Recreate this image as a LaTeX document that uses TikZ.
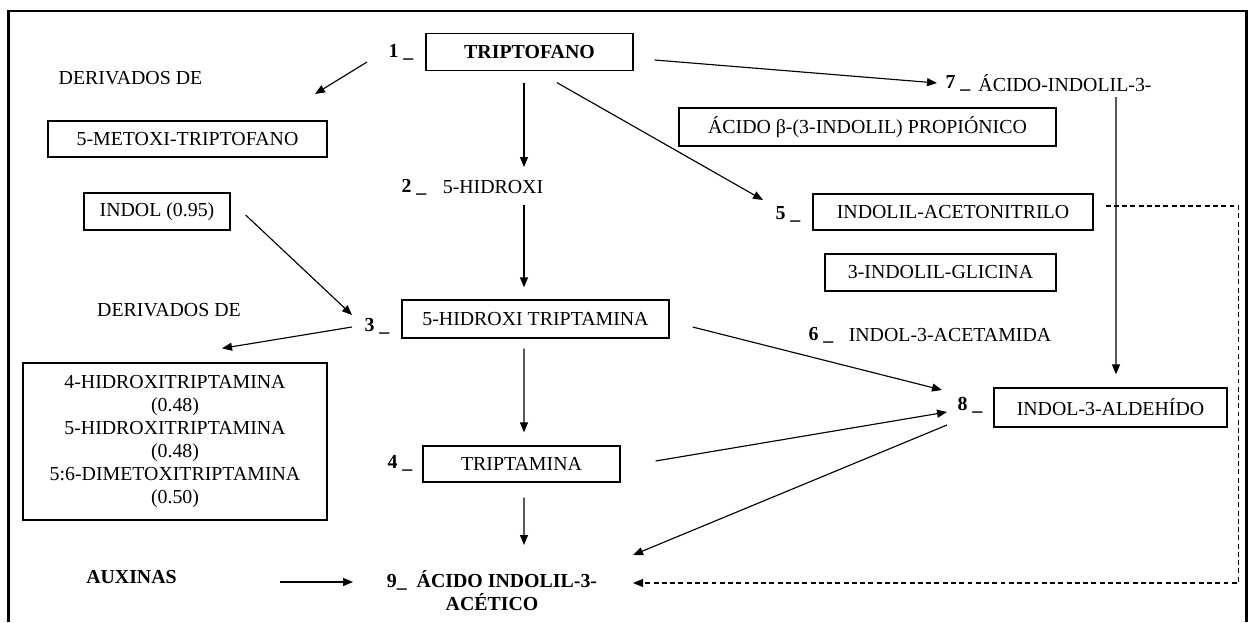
\documentclass[tikz,border=0pt]{standalone}
\usepackage{fontspec}
\setmainfont{Liberation Serif}
\usetikzlibrary{arrows.meta}
\newcommand{\diagfont}{\fontsize{11.3}{13.1}\selectfont}
\tikzset{
  >={Triangle[length=2mm,width=1.6mm]},
  box/.style={draw,line width=0.75pt,inner sep=0pt,align=center,font=\diagfont},
  num/.style={font=\diagfont\bfseries,inner sep=0pt},
  txt/.style={font=\diagfont,inner sep=0pt,align=center},
  flow/.style={->,line width=0.65pt},
  back/.style={->,line width=0.65pt,dash pattern=on 2.8pt off 1.9pt},
}

\begin{document}
\begin{tikzpicture}[x=0.02cm,y=-0.02cm]
  \useasboundingbox (0,0) rectangle (1253,622);
  \draw[line width=1.5pt] (8.5,622) -- (8.5,11) -- (1246.5,11) -- (1246.5,622);
  % left column
  \node[txt] (der1) at (130.5,78) {DERIVADOS DE};
  \node[box,minimum width=55.8mm,minimum height=7.2mm] (metox) at (187.5,139) {5-METOXI-TRIPTOFANO};
  \node[box,minimum width=29.2mm,minimum height=7.4mm] (indol) at (157,211.5) {INDOL (0.95)};
  \node[txt] (der2) at (169,310) {DERIVADOS DE};
  \node[box,minimum width=60.8mm,minimum height=31.4mm] (derv) at (175,441.5)
    {4-HIDROXITRIPTAMINA\\(0.48)\\5-HIDROXITRIPTAMINA\\(0.48)\\5:6-DIMETOXITRIPTAMINA\\(0.50)};
  \node[num] (aux) at (131.5,577) {AUXINAS};
  % central column
  \node[num] (n1) at (401,52) {1 \_};
  \node[box,font=\diagfont\bfseries,minimum width=41.4mm,minimum height=7.4mm] (trp) at (529.5,52) {TRIPTOFANO};
  \node[num] (n2) at (414,187) {2 \_};
  \node[txt] (h5) at (493,187) {5-HIDROXI};
  \node[num] (n3) at (377,326) {3 \_};
  \node[box,minimum width=53.4mm,minimum height=7.6mm] (hdxt) at (535.5,319) {5-HIDROXI TRIPTAMINA};
  \node[num] (n4) at (400,463) {4 \_};
  \node[box,minimum width=39.4mm,minimum height=7.2mm] (trpt) at (521.5,464) {TRIPTAMINA};
  \node[txt,font=\diagfont\bfseries] (iaa) at (492,591) {9\_\ \ ÁCIDO INDOLIL-3-\\ACÉTICO};
  % right column
  \node[num] (n7) at (958,83) {7 \_};
  \node[txt] (ia7) at (1065,83) {ÁCIDO-INDOLIL-3-};
  \node[box,minimum width=75.4mm,minimum height=7.6mm] (propi) at (867.5,127) {ÁCIDO β-(3-INDOLIL) PROPIÓNICO};
  \node[num] (n5) at (788,214) {5 \_};
  \node[box,minimum width=56mm,minimum height=7.2mm] (acnit) at (953,212) {INDOLIL-ACETONITRILO};
  \node[box,minimum width=46.2mm,minimum height=7.4mm] (glic) at (940.5,272.5) {3-INDOLIL-GLICINA};
  \node[num] (n6) at (821,335) {6 \_};
  \node[txt] (acet) at (950,335) {INDOL-3-ACETAMIDA};
  \node[num] (n8) at (970,405) {8 \_};
  \node[box,minimum width=46.6mm,minimum height=7.8mm] (ald) at (1110.5,407.5) {INDOL-3-ALDEHÍDO};
  % connectors
  \draw[flow] ([shift={(-34,10)}]n1.center) -- ([shift={(184.5,16)}]der1.center);
  \draw[flow] ([shift={(-5.5,12)}]trp.south) -- ([shift={(31,-20)}]h5.center);
  \draw[flow] ([shift={(31,18)}]h5.center) -- ([shift={(-11.5,-12)}]hdxt.north);
  \draw[flow] ([shift={(-11.5,10)}]hdxt.south) -- ([shift={(2.5,-13)}]trpt.north);
  \draw[flow] ([shift={(2.5,15)}]trpt.south) -- ([shift={(32,-46)}]iaa.center);
  \draw[flow] ([shift={(27.5,11.5)}]trp.south) -- ([shift={(-25,-14)}]n5.center);
  \draw[flow] ([shift={(21,8)}]trp.east) -- ([shift={(-21,0)}]n7.center);
  \draw[flow] ([shift={(51,14)}]ia7.center) -- ([shift={(5.5,-13)}]ald.north);
  \draw[flow] ([shift={(15,3.5)}]indol.east) -- ([shift={(-25,-11)}]n3.center);
  \draw[flow] ([shift={(-25,1)}]n3.center) -- ([shift={(47,-14)}]derv.north);
  \draw[flow] ([shift={(23,8)}]hdxt.east) -- ([shift={(-28,-15)}]n8.center);
  \draw[flow] ([shift={(35,-3)}]trpt.east) -- ([shift={(-23,7)}]n8.center);
  \draw[flow] ([shift={(-23,20)}]n8.center) -- ([shift={(141,-36)}]iaa.center);
  \draw[flow] ([shift={(148.5,5)}]aux.center) -- ([shift={(-139,-9)}]iaa.center);
  \draw[back] ([shift={(12,-6)}]acnit.east) -- ++(133,0) |- ([shift={(141,-8)}]iaa.center);
\end{tikzpicture}
\end{document}
